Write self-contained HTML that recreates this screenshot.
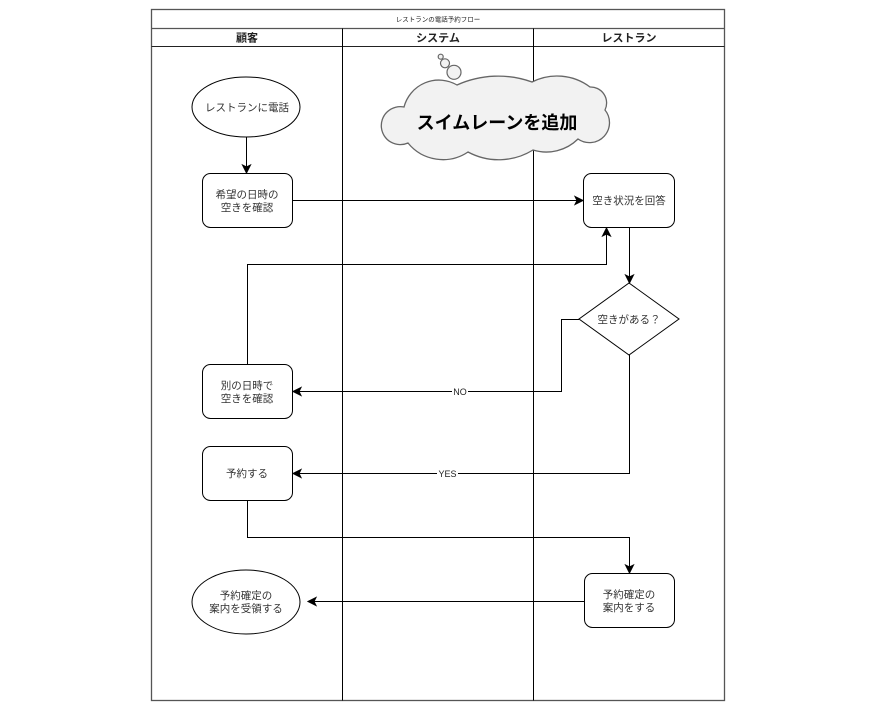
<!DOCTYPE html>
<html><head><meta charset="utf-8"><style>
html,body{margin:0;padding:0;background:#fff;}
svg{display:block;}
text{font-family:"Liberation Sans","Noto Sans CJK JP",sans-serif;}
</style></head><body>
<svg width="872" height="711" viewBox="0 0 872 711" xmlns="http://www.w3.org/2000/svg">
<rect x="0" y="0" width="872" height="711" fill="#fff"/>
<!-- frame -->
<rect x="151.5" y="9.5" width="573" height="691" fill="#fff" stroke="#555" stroke-width="1.3"/>
<line x1="151.5" y1="28.5" x2="724.5" y2="28.5" stroke="#555" stroke-width="1.2"/>
<line x1="151.5" y1="46.5" x2="724.5" y2="46.5" stroke="#222" stroke-width="1"/>
<line x1="342.5" y1="28.5" x2="342.5" y2="700.5" stroke="#000" stroke-width="1"/>
<line x1="533.5" y1="28.5" x2="533.5" y2="700.5" stroke="#000" stroke-width="1"/>
<text x="438" y="21.5" font-size="6.5" text-anchor="middle" fill="#222">レストランの電話予約フロー</text>
<text x="247" y="41.5" font-size="11" font-weight="bold" text-anchor="middle" fill="#222">顧客</text>
<text x="438" y="41.5" font-size="11" font-weight="bold" text-anchor="middle" fill="#222">システム</text>
<text x="629" y="41.5" font-size="11" font-weight="bold" text-anchor="middle" fill="#222">レストラン</text>

<!-- cloud -->
<circle cx="440.7" cy="56.7" r="2.5" fill="#f2f2f2" stroke="#666" stroke-width="1.2"/>
<circle cx="445" cy="63.3" r="4.5" fill="#f2f2f2" stroke="#666" stroke-width="1.2"/>
<circle cx="454" cy="72.3" r="7" fill="#f2f2f2" stroke="#666" stroke-width="1.2"/>
<path d="M 408 143 A 19 19 0 1 1 404 107 A 36 36 0 0 1 457 85 A 100 100 0 0 1 532 82 A 55 55 0 0 1 590 87 A 16 16 0 0 1 605 110 A 20 20 0 0 1 578 139 A 45 45 0 0 1 533 150 A 65 65 0 0 1 468 152 A 45 45 0 0 1 408 143 Z" fill="#f2f2f2" stroke="#666" stroke-width="1.3"/>
<text x="497" y="129" font-size="18" font-weight="bold" text-anchor="middle" fill="#000">スイムレーンを追加</text>

<g stroke="#000" stroke-width="1" fill="none">
<ellipse cx="246" cy="107" rx="54" ry="30" fill="#fff"/>
<line x1="246.5" y1="137" x2="246.5" y2="167"/>
<rect x="202.5" y="173.5" width="90" height="54" rx="8" fill="#fff"/>
<line x1="292.5" y1="200.5" x2="577" y2="200.5"/>
<rect x="583.5" y="173.5" width="91" height="54" rx="8" fill="#fff"/>
<line x1="629.5" y1="228" x2="629.5" y2="277"/>
<polygon points="629,283 679,319 629,355 579,319" fill="#fff"/>
<polyline points="247.5,364 247.5,264.5 606.5,264.5 606.5,234"/>
<polyline points="579,319.5 561.5,319.5 561.5,391.5 299,391.5"/>
<rect x="202.5" y="364.5" width="90" height="54" rx="8" fill="#fff"/>
<polyline points="629.5,355 629.5,473.5 299,473.5"/>
<rect x="202.5" y="446.5" width="90" height="54" rx="8" fill="#fff"/>
<polyline points="247.5,501 247.5,537.5 629.5,537.5 629.5,567"/>
<rect x="584.5" y="573.5" width="90" height="54" rx="8" fill="#fff"/>
<line x1="584" y1="601.5" x2="314" y2="601.5"/>
<ellipse cx="246" cy="602" rx="54" ry="32" fill="#fff"/>
</g>
<!-- arrowheads -->
<g fill="#000" stroke="#000" stroke-width="1">
<polygon points="246.5,173 242.5,165 246.5,167 250.5,165"/>
<polygon points="583,200.5 575,196.5 577,200.5 575,204.5"/>
<polygon points="629.5,283 625.5,275 629.5,277 633.5,275"/>
<polygon points="606.5,228 602.5,236 606.5,234 610.5,236"/>
<polygon points="293,391.5 301,387.5 299,391.5 301,395.5"/>
<polygon points="293,473.5 301,469.5 299,473.5 301,477.5"/>
<polygon points="629.5,573 625.5,565 629.5,567 633.5,565"/>
<polygon points="308,601.5 316,597.5 314,601.5 316,605.5"/>
</g>
<!-- edge labels -->
<rect x="452" y="386" width="16" height="11" fill="#fff"/>
<text x="460" y="395" font-size="9" text-anchor="middle" fill="#222">NO</text>
<rect x="437" y="468" width="21" height="11" fill="#fff"/>
<text x="447.5" y="477" font-size="9" text-anchor="middle" fill="#222">YES</text>

<!-- node labels -->
<g font-size="10.5" fill="#333" text-anchor="middle">
<text x="247" y="111">レストランに電話</text>
<text x="247" y="198">希望の日時の</text>
<text x="247" y="211">空きを確認</text>
<text x="629" y="204">空き状況を回答</text>
<text x="629" y="323">空きがある？</text>
<text x="247" y="389">別の日時で</text>
<text x="247" y="402">空きを確認</text>
<text x="247" y="477">予約する</text>
<text x="629" y="598">予約確定の</text>
<text x="629" y="611">案内をする</text>
<text x="246" y="599">予約確定の</text>
<text x="246" y="612">案内を受領する</text>
</g>
</svg>
</body></html>
